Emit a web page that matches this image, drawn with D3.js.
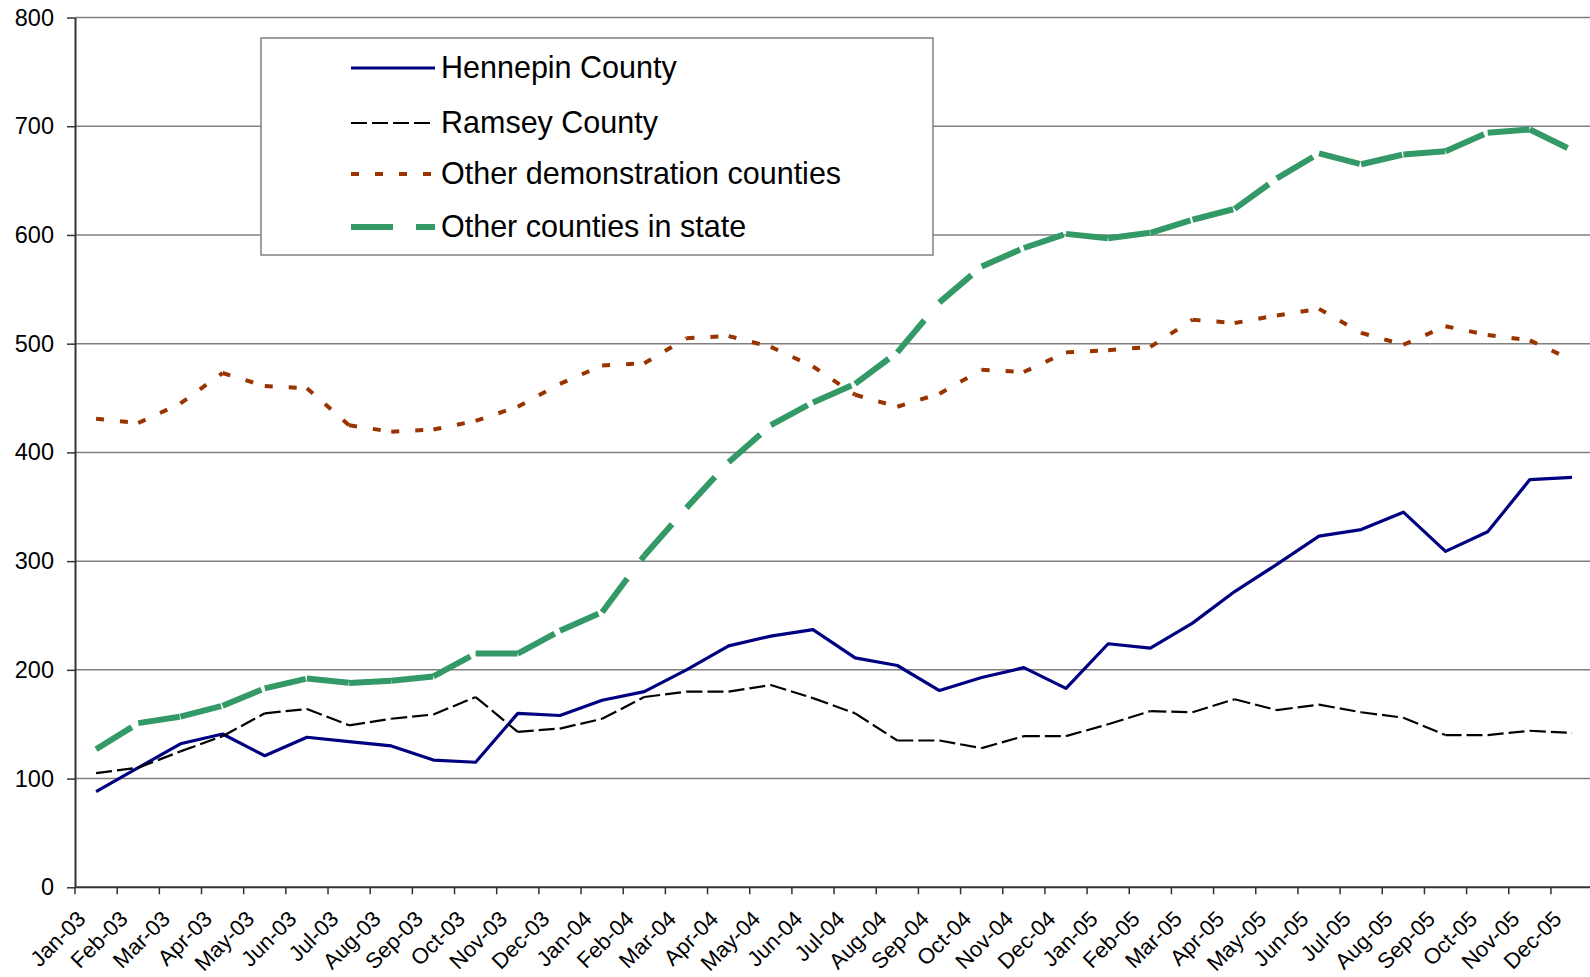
<!DOCTYPE html>
<html>
<head>
<meta charset="utf-8">
<script src="https://cdn.jsdelivr.net/npm/d3@7/dist/d3.min.js"></script>
<style>
  html, body { margin: 0; padding: 0; background: #fff; }
  svg { display: block; font-family: "Liberation Sans", Arial, sans-serif; }
</style>
</head>
<body>
<div id="chart"></div>
<script>
// monthly counts, Jan 2003 - Dec 2005
const months = [
  "Jan-03", "Feb-03", "Mar-03", "Apr-03", "May-03", "Jun-03",
  "Jul-03", "Aug-03", "Sep-03", "Oct-03", "Nov-03", "Dec-03",
  "Jan-04", "Feb-04", "Mar-04", "Apr-04", "May-04", "Jun-04",
  "Jul-04", "Aug-04", "Sep-04", "Oct-04", "Nov-04", "Dec-04",
  "Jan-05", "Feb-05", "Mar-05", "Apr-05", "May-05", "Jun-05",
  "Jul-05", "Aug-05", "Sep-05", "Oct-05", "Nov-05", "Dec-05"
];
const hennepin = [
  88, 110, 132, 141, 121, 138, 134, 130, 117, 115, 160, 158,
  172, 180, 200, 222, 231, 237, 211, 204, 181, 193, 202, 183,
  224, 220, 243, 272, 297, 323, 329, 345, 309, 327, 375, 377
];
const ramsey = [
  105, 110, 125, 139, 160, 164, 149, 155, 159, 175, 143, 146,
  155, 175, 180, 180, 186, 174, 160, 135, 135, 128, 139, 139,
  150, 162, 161, 173, 163, 168, 161, 156, 140, 140, 144, 142
];
const otherDemo = [
  431, 427, 445, 473, 461, 459, 425, 419, 421, 429, 442, 463,
  480, 482, 505, 507, 497, 479, 453, 442, 454, 476, 474, 492,
  494, 497, 522, 519, 526, 532, 510, 499, 516, 508, 503, 485
];
const otherState = [
  127, 151, 157, 167, 183, 192, 188, 190, 194, 215, 215, 236,
  253, 305, 349, 391, 425, 446, 463, 492, 538, 571, 588, 601,
  597, 602, 614, 624, 652, 675, 665, 674, 677, 694, 697, 678
];
const yTicks = [0, 100, 200, 300, 400, 500, 600, 700, 800];
const seriesNames = [
  "Hennepin County", "Ramsey County",
  "Other demonstration counties", "Other counties in state"
];

const width = 1590, height = 977;
const plotLeft = 75, plotBottom = 887.3, plotTop = 17.5, bandW = 42.17;

const svg = d3.select("#chart").append("svg")
  .attr("width", width).attr("height", height);

const x = d3.scaleBand().domain(months)
  .range([plotLeft, plotLeft + months.length * bandW]).padding(0);
const y = d3.scaleLinear().domain([0, 800]).range([plotBottom, plotTop]);
const cx = (m) => x(m) + x.bandwidth() / 2;

// gridlines
svg.append("g").selectAll("line")
  .data(yTicks.filter((d) => d > 0))
  .join("line")
  .attr("x1", plotLeft).attr("x2", width)
  .attr("y1", (d) => y(d)).attr("y2", (d) => y(d))
  .attr("stroke", "#808080").attr("stroke-width", 1.5);

// y axis
const yAxis = svg.append("g")
  .attr("transform", `translate(${plotLeft},0)`)
  .call(d3.axisLeft(y).tickValues(yTicks).tickSize(8).tickPadding(13).tickSizeOuter(0));
yAxis.select(".domain").attr("stroke", "#333").attr("stroke-width", 2);
yAxis.selectAll(".tick line").attr("stroke", "#333").attr("stroke-width", 1.5);
yAxis.selectAll("text").attr("font-size", 23.5).attr("fill", "#000")
  .attr("font-family", "Liberation Sans, Arial, sans-serif");

// x axis (ticks on category boundaries)
const xg = svg.append("g");
xg.append("line")
  .attr("x1", plotLeft).attr("x2", width)
  .attr("y1", plotBottom).attr("y2", plotBottom)
  .attr("stroke", "#333").attr("stroke-width", 2);
xg.selectAll("line.tk").data(months).join("line").attr("class", "tk")
  .attr("x1", (d) => x(d)).attr("x2", (d) => x(d))
  .attr("y1", plotBottom).attr("y2", plotBottom + 7)
  .attr("stroke", "#333").attr("stroke-width", 1.5);
xg.selectAll("text").data(months).join("text")
  .attr("text-anchor", "end")
  .attr("font-size", 22)
  .attr("transform", (d) => `translate(${x(d) + 12},${plotBottom + 33}) rotate(-45)`)
  .text((d) => d);

// series, drawn segment by segment so dash patterns restart at each point
const styles = [
  { color: "#000080", w: 3.2, dash: null },
  { color: "#000000", w: 2.2, dash: "16,5" },
  { color: "#993300", w: 4, dash: "8,16" },
  { color: "#339966", w: 6, dash: "42,23" }
];
const allSeries = [hennepin, ramsey, otherDemo, otherState];
const line = d3.line().x((d) => cx(d.m)).y((d) => y(d.v));

allSeries.forEach((vals, i) => {
  const st = styles[i];
  const pts = vals.map((v, j) => ({ m: months[j], v }));
  const g = svg.append("g").attr("fill", "none")
    .attr("stroke", st.color).attr("stroke-width", st.w);
  if (!st.dash) {
    g.append("path").attr("d", line(pts)).attr("stroke-linejoin", "round");
  } else {
    g.selectAll("path").data(d3.pairs(pts)).join("path")
      .attr("d", (p) => line(p))
      .attr("stroke-dasharray", st.dash);
  }
});

// legend
const lg = svg.append("g");
lg.append("rect")
  .attr("x", 261).attr("y", 38).attr("width", 672).attr("height", 217)
  .attr("fill", "#fff").attr("stroke", "#808080").attr("stroke-width", 1.5);
const rowY = [68, 123, 174, 227];
seriesNames.forEach((name, i) => {
  const st = styles[i];
  lg.append("line")
    .attr("x1", 351).attr("x2", 435)
    .attr("y1", rowY[i]).attr("y2", rowY[i])
    .attr("stroke", st.color).attr("stroke-width", st.w)
    .attr("stroke-dasharray", st.dash);
  lg.append("text")
    .attr("x", 441).attr("y", rowY[i] + 9.5)
    .attr("font-size", 30.5)
    .text(name);
});
</script>
</body>
</html>
